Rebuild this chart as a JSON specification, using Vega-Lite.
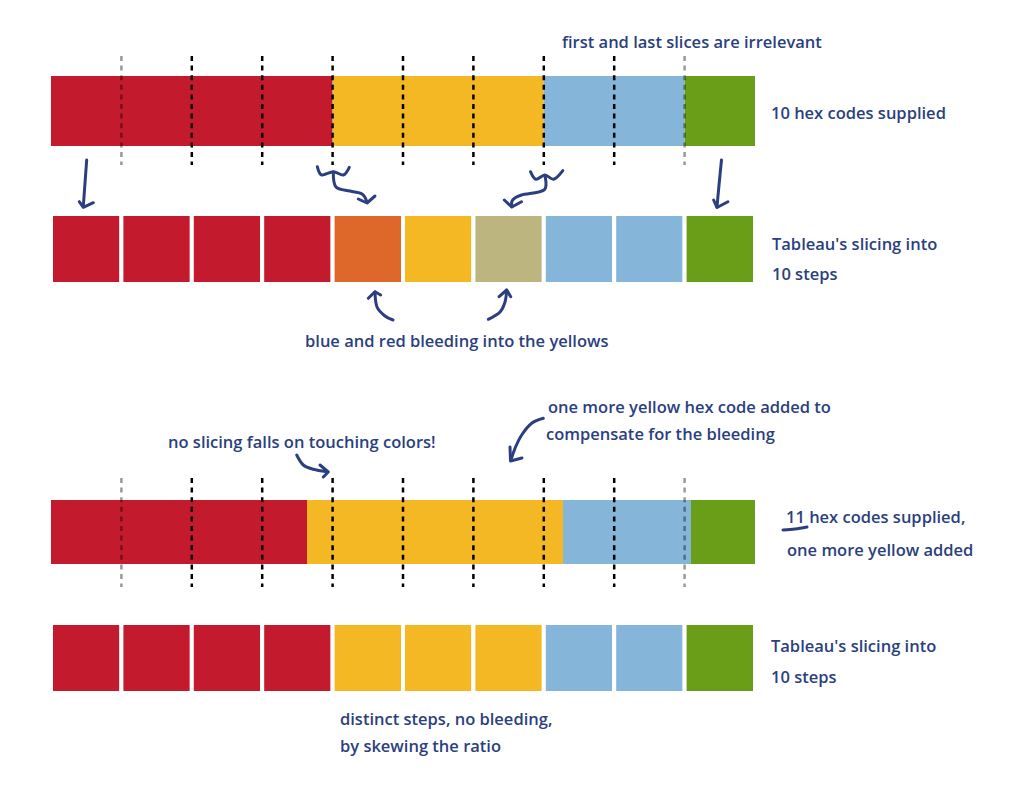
{
  "$schema": "https://vega.github.io/schema/vega-lite/v6.json",
  "width": 1016,
  "height": 787,
  "padding": 0,
  "autosize": {"type": "fit", "contains": "padding"},
  "background": "white",
  "config": {"view": {"stroke": null}},
  "datasets": {
    "strips": [
      {"row": "10 codes", "hue": "red", "u0": 0, "u1": 4, "y0": 76, "y1": 146},
      {"row": "10 codes", "hue": "yellow", "u0": 4, "u1": 7, "y0": 76, "y1": 146},
      {"row": "10 codes", "hue": "blue", "u0": 7, "u1": 9, "y0": 76, "y1": 146},
      {"row": "10 codes", "hue": "green", "u0": 9, "u1": 10, "y0": 76, "y1": 146},
      {"row": "11 codes", "hue": "red", "u0": 0, "u1": 3.6364, "y0": 500, "y1": 564},
      {"row": "11 codes", "hue": "yellow", "u0": 3.6364, "u1": 7.2727, "y0": 500, "y1": 564},
      {"row": "11 codes", "hue": "blue", "u0": 7.2727, "u1": 9.0909, "y0": 500, "y1": 564},
      {"row": "11 codes", "hue": "green", "u0": 9.0909, "u1": 10, "y0": 500, "y1": 564}
    ],
    "steps": [
      {"row": "steps A", "hue": "red", "u0": 0, "u1": 1, "y0": 214, "y1": 284},
      {"row": "steps A", "hue": "red", "u0": 1, "u1": 2, "y0": 214, "y1": 284},
      {"row": "steps A", "hue": "red", "u0": 2, "u1": 3, "y0": 214, "y1": 284},
      {"row": "steps A", "hue": "red", "u0": 3, "u1": 4, "y0": 214, "y1": 284},
      {"row": "steps A", "hue": "orange", "u0": 4, "u1": 5, "y0": 214, "y1": 284},
      {"row": "steps A", "hue": "yellow", "u0": 5, "u1": 6, "y0": 214, "y1": 284},
      {"row": "steps A", "hue": "tan", "u0": 6, "u1": 7, "y0": 214, "y1": 284},
      {"row": "steps A", "hue": "blue", "u0": 7, "u1": 8, "y0": 214, "y1": 284},
      {"row": "steps A", "hue": "blue", "u0": 8, "u1": 9, "y0": 214, "y1": 284},
      {"row": "steps A", "hue": "green", "u0": 9, "u1": 10, "y0": 214, "y1": 284},
      {"row": "steps B", "hue": "red", "u0": 0, "u1": 1, "y0": 623, "y1": 693},
      {"row": "steps B", "hue": "red", "u0": 1, "u1": 2, "y0": 623, "y1": 693},
      {"row": "steps B", "hue": "red", "u0": 2, "u1": 3, "y0": 623, "y1": 693},
      {"row": "steps B", "hue": "red", "u0": 3, "u1": 4, "y0": 623, "y1": 693},
      {"row": "steps B", "hue": "yellow", "u0": 4, "u1": 5, "y0": 623, "y1": 693},
      {"row": "steps B", "hue": "yellow", "u0": 5, "u1": 6, "y0": 623, "y1": 693},
      {"row": "steps B", "hue": "yellow", "u0": 6, "u1": 7, "y0": 623, "y1": 693},
      {"row": "steps B", "hue": "blue", "u0": 7, "u1": 8, "y0": 623, "y1": 693},
      {"row": "steps B", "hue": "blue", "u0": 8, "u1": 9, "y0": 623, "y1": 693},
      {"row": "steps B", "hue": "green", "u0": 9, "u1": 10, "y0": 623, "y1": 693}
    ],
    "slices": [
      {"u": 1, "kind": "edge", "y0": 56, "y1": 165},
      {"u": 2, "kind": "inner", "y0": 56, "y1": 165},
      {"u": 3, "kind": "inner", "y0": 56, "y1": 165},
      {"u": 4, "kind": "inner", "y0": 56, "y1": 165},
      {"u": 5, "kind": "inner", "y0": 56, "y1": 165},
      {"u": 6, "kind": "inner", "y0": 56, "y1": 165},
      {"u": 7, "kind": "inner", "y0": 56, "y1": 165},
      {"u": 8, "kind": "inner", "y0": 56, "y1": 165},
      {"u": 9, "kind": "edge", "y0": 56, "y1": 165},
      {"u": 1, "kind": "edge", "y0": 478, "y1": 587},
      {"u": 2, "kind": "inner", "y0": 478, "y1": 587},
      {"u": 3, "kind": "inner", "y0": 478, "y1": 587},
      {"u": 4, "kind": "inner", "y0": 478, "y1": 587},
      {"u": 5, "kind": "inner", "y0": 478, "y1": 587},
      {"u": 6, "kind": "inner", "y0": 478, "y1": 587},
      {"u": 7, "kind": "inner", "y0": 478, "y1": 587},
      {"u": 8, "kind": "inner", "y0": 478, "y1": 587},
      {"u": 9, "kind": "edge", "y0": 478, "y1": 587}
    ],
    "curves": [
      {"id": "a1", "i": 0, "u": 0.507, "y": 160},
      {"id": "a1", "i": 1, "u": 0.483, "y": 183},
      {"id": "a1", "i": 2, "u": 0.459, "y": 206},
      {"id": "b1", "i": 0, "u": 3.783, "y": 166.7},
      {"id": "b1", "i": 1, "u": 3.845, "y": 175},
      {"id": "b1", "i": 2, "u": 4.010, "y": 171.7},
      {"id": "b1", "i": 3, "u": 4.152, "y": 175},
      {"id": "b1", "i": 4, "u": 4.237, "y": 167.3},
      {"id": "s1", "i": 0, "u": 4.010, "y": 172},
      {"id": "s1", "i": 1, "u": 4.048, "y": 187},
      {"id": "s1", "i": 2, "u": 4.247, "y": 191},
      {"id": "s1", "i": 3, "u": 4.418, "y": 194},
      {"id": "s1", "i": 4, "u": 4.489, "y": 202},
      {"id": "b2", "i": 0, "u": 6.811, "y": 171.7},
      {"id": "b2", "i": 1, "u": 6.888, "y": 179.3},
      {"id": "b2", "i": 2, "u": 7.016, "y": 175},
      {"id": "b2", "i": 3, "u": 7.142, "y": 179.3},
      {"id": "b2", "i": 4, "u": 7.270, "y": 170.7},
      {"id": "s2", "i": 0, "u": 7.016, "y": 176},
      {"id": "s2", "i": 1, "u": 7.003, "y": 190},
      {"id": "s2", "i": 2, "u": 6.683, "y": 195},
      {"id": "s2", "i": 3, "u": 6.557, "y": 200},
      {"id": "s2", "i": 4, "u": 6.545, "y": 206.7},
      {"id": "a4", "i": 0, "u": 9.524, "y": 160},
      {"id": "a4", "i": 1, "u": 9.489, "y": 185},
      {"id": "a4", "i": 2, "u": 9.460, "y": 207},
      {"id": "a5", "i": 0, "u": 4.858, "y": 320},
      {"id": "a5", "i": 1, "u": 4.744, "y": 316},
      {"id": "a5", "i": 2, "u": 4.631, "y": 307},
      {"id": "a5", "i": 3, "u": 4.602, "y": 292},
      {"id": "a6", "i": 0, "u": 6.212, "y": 319.3},
      {"id": "a6", "i": 1, "u": 6.378, "y": 312},
      {"id": "a6", "i": 2, "u": 6.449, "y": 302},
      {"id": "a6", "i": 3, "u": 6.473, "y": 290},
      {"id": "a7", "i": 0, "u": 3.490, "y": 455},
      {"id": "a7", "i": 1, "u": 3.584, "y": 465},
      {"id": "a7", "i": 2, "u": 3.726, "y": 469.3},
      {"id": "a7", "i": 3, "u": 3.916, "y": 471.7},
      {"id": "a8", "i": 0, "u": 6.993, "y": 418.3},
      {"id": "a8", "i": 1, "u": 6.828, "y": 423.3},
      {"id": "a8", "i": 2, "u": 6.686, "y": 435},
      {"id": "a8", "i": 3, "u": 6.591, "y": 448.3},
      {"id": "a8", "i": 4, "u": 6.534, "y": 460},
      {"id": "ul", "i": 0, "u": 10.398, "y": 530},
      {"id": "ul", "i": 1, "u": 10.568, "y": 529},
      {"id": "ul", "i": 2, "u": 10.739, "y": 527}
    ],
    "heads": [
      {"id": "h1", "i": 0, "u": 0.402, "y": 201.7},
      {"id": "h1", "i": 1, "u": 0.459, "y": 207.3},
      {"id": "h1", "i": 2, "u": 0.601, "y": 202.7},
      {"id": "hb1", "i": 0, "u": 4.365, "y": 199},
      {"id": "hb1", "i": 1, "u": 4.489, "y": 203},
      {"id": "hb1", "i": 2, "u": 4.602, "y": 196},
      {"id": "hb2", "i": 0, "u": 6.439, "y": 200},
      {"id": "hb2", "i": 1, "u": 6.545, "y": 207},
      {"id": "hb2", "i": 2, "u": 6.683, "y": 201.7},
      {"id": "h4", "i": 0, "u": 9.412, "y": 200},
      {"id": "h4", "i": 1, "u": 9.460, "y": 207.5},
      {"id": "h4", "i": 2, "u": 9.615, "y": 201.7},
      {"id": "h5", "i": 0, "u": 4.507, "y": 298.3},
      {"id": "h5", "i": 1, "u": 4.602, "y": 291.7},
      {"id": "h5", "i": 2, "u": 4.683, "y": 295},
      {"id": "h6", "i": 0, "u": 6.365, "y": 296.7},
      {"id": "h6", "i": 1, "u": 6.473, "y": 290},
      {"id": "h6", "i": 2, "u": 6.530, "y": 296.7},
      {"id": "h7", "i": 0, "u": 3.821, "y": 465},
      {"id": "h7", "i": 1, "u": 3.939, "y": 472},
      {"id": "h7", "i": 2, "u": 3.868, "y": 477},
      {"id": "h8", "i": 0, "u": 6.520, "y": 447},
      {"id": "h8", "i": 1, "u": 6.527, "y": 461},
      {"id": "h8", "i": 2, "u": 6.690, "y": 458}
    ],
    "notes": [
      {"label": "first and last slices are irrelevant", "u": 7.259, "y": 43},
      {"label": "10 hex codes supplied", "u": 10.227, "y": 114},
      {"label": "Tableau's slicing into", "u": 10.241, "y": 245},
      {"label": "10 steps", "u": 10.241, "y": 275},
      {"label": "blue and red bleeding into the yellows", "u": 3.608, "y": 342},
      {"label": "one more yellow hex code added to", "u": 7.06, "y": 408},
      {"label": "compensate for the bleeding", "u": 7.031, "y": 435},
      {"label": "no slicing falls on touching colors!", "u": 1.662, "y": 443},
      {"label": "11 hex codes supplied,", "u": 10.44, "y": 518},
      {"label": "one more yellow added", "u": 10.455, "y": 551},
      {"label": "Tableau's slicing into", "u": 10.227, "y": 647},
      {"label": "10 steps", "u": 10.227, "y": 678},
      {"label": "distinct steps, no bleeding,", "u": 4.105, "y": 720},
      {"label": "by skewing the ratio", "u": 4.105, "y": 747}
    ]
  },
  "layer": [
    {
      "data": {"name": "strips"},
      "mark": {"type": "rect"},
      "encoding": {
        "x": {"field": "u0", "type": "quantitative", "scale": {"domain": [-0.72443, 13.70739], "nice": false, "zero": false}, "axis": null},
        "x2": {"field": "u1"},
        "y": {"field": "y0", "type": "quantitative", "scale": {"domain": [0, 787], "reverse": true, "nice": false, "zero": false}, "axis": null},
        "y2": {"field": "y1"},
        "color": {"field": "hue", "type": "nominal", "legend": null, "scale": {"domain": ["red", "orange", "yellow", "tan", "blue", "green"], "range": ["#C41A2D", "#DE6829", "#F5B825", "#BDB580", "#85B5D9", "#6A9E19"]}}
      }
    },
    {
      "data": {"name": "steps"},
      "mark": {"type": "rect", "stroke": "white", "strokeWidth": 4},
      "encoding": {
        "x": {"field": "u0", "type": "quantitative", "scale": {"domain": [-0.72443, 13.70739], "nice": false, "zero": false}, "axis": null},
        "x2": {"field": "u1"},
        "y": {"field": "y0", "type": "quantitative", "scale": {"domain": [0, 787], "reverse": true, "nice": false, "zero": false}, "axis": null},
        "y2": {"field": "y1"},
        "color": {"field": "hue", "type": "nominal", "legend": null, "scale": {"domain": ["red", "orange", "yellow", "tan", "blue", "green"], "range": ["#C41A2D", "#DE6829", "#F5B825", "#BDB580", "#85B5D9", "#6A9E19"]}}
      }
    },
    {
      "data": {"name": "slices"},
      "mark": {"type": "rule", "color": "black", "strokeWidth": 2.5, "strokeDash": [5, 4.6]},
      "encoding": {
        "x": {"field": "u", "type": "quantitative", "scale": {"domain": [-0.72443, 13.70739], "nice": false, "zero": false}, "axis": null},
        "y": {"field": "y0", "type": "quantitative", "scale": {"domain": [0, 787], "reverse": true, "nice": false, "zero": false}, "axis": null},
        "y2": {"field": "y1"},
        "opacity": {"field": "kind", "type": "nominal", "legend": null, "scale": {"domain": ["edge", "inner"], "range": [0.4, 1]}}
      }
    },
    {
      "data": {"name": "curves"},
      "mark": {"type": "line", "interpolate": "cardinal", "color": "#2B3F80", "strokeWidth": 3, "strokeCap": "round", "strokeJoin": "round"},
      "encoding": {
        "x": {"field": "u", "type": "quantitative", "scale": {"domain": [-0.72443, 13.70739], "nice": false, "zero": false}, "axis": null},
        "y": {"field": "y", "type": "quantitative", "scale": {"domain": [0, 787], "reverse": true, "nice": false, "zero": false}, "axis": null},
        "detail": {"field": "id", "type": "nominal"},
        "order": {"field": "i", "type": "quantitative"}
      }
    },
    {
      "data": {"name": "heads"},
      "mark": {"type": "line", "color": "#2B3F80", "strokeWidth": 3, "strokeCap": "round", "strokeJoin": "round"},
      "encoding": {
        "x": {"field": "u", "type": "quantitative", "scale": {"domain": [-0.72443, 13.70739], "nice": false, "zero": false}, "axis": null},
        "y": {"field": "y", "type": "quantitative", "scale": {"domain": [0, 787], "reverse": true, "nice": false, "zero": false}, "axis": null},
        "detail": {"field": "id", "type": "nominal"},
        "order": {"field": "i", "type": "quantitative"}
      }
    },
    {
      "data": {"name": "notes"},
      "mark": {"type": "text", "align": "left", "baseline": "middle", "font": "Open Sans", "fontSize": 16.5, "fontWeight": 600, "color": "#2B3F80"},
      "encoding": {
        "x": {"field": "u", "type": "quantitative", "scale": {"domain": [-0.72443, 13.70739], "nice": false, "zero": false}, "axis": null},
        "y": {"field": "y", "type": "quantitative", "scale": {"domain": [0, 787], "reverse": true, "nice": false, "zero": false}, "axis": null},
        "text": {"field": "label", "type": "nominal"}
      }
    }
  ]
}
